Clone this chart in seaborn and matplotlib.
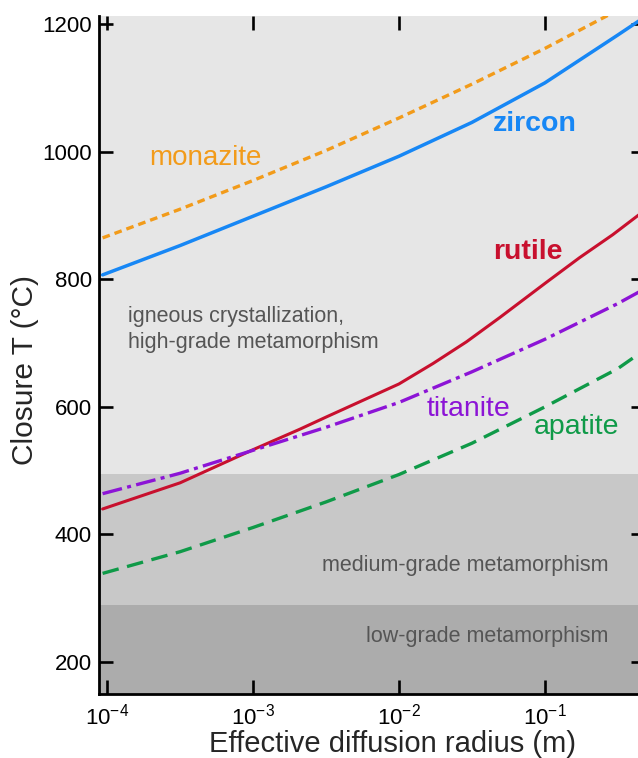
import numpy as np
import pandas as pd
import matplotlib
matplotlib.use("Agg")
import matplotlib.pyplot as plt
import seaborn as sns

# effective diffusion radius (m) at half-decade steps
radius = [9.3e-5, 3.16e-4, 1e-3, 3.16e-3, 1e-2, 3.16e-2, 1e-1, 3.16e-1, 4.4e-1]

# closure temperatures (degC)
zircon = [807, 853, 899, 945, 993, 1046, 1108, 1183, 1205]
monazite = [865, 910, 955, 1002, 1053, 1106, 1162, 1222, 1244]
titanite = [464, 496, 532, 568, 607, 655, 706, 762, 780]
apatite = [339, 373, 411, 451, 494, 543, 600, 660, 683]

# rutile bends near 1e-2, so it was read at more places
rutile_radius = [9.3e-5, 3.16e-4, 1e-3, 2.09e-3, 3.16e-3, 1e-2, 1.71e-2, 2.9e-2,
                 4.9e-2, 1.02e-1, 1.73e-1, 2.92e-1, 4.4e-1]
rutile = [440, 481, 533, 565, 584, 636, 668, 702, 740, 795, 834, 870, 901]

# metamorphic grade bands (degC)
band_edges = [150, 290, 495, 1213]
band_colors = ["#acacac", "#c8c8c8", "#e6e6e6"]

sns.set_theme(style="ticks")
plt.rcParams["font.family"] = ["Liberation Sans", "DejaVu Sans"]
plt.rcParams["mathtext.fontset"] = "custom"
plt.rcParams["mathtext.rm"] = "Liberation Sans"
plt.rcParams["mathtext.it"] = "Liberation Sans:italic"
plt.rcParams["mathtext.bf"] = "Liberation Sans:bold"

fig = plt.figure(figsize=(6.38, 7.58), dpi=100)
# right edge runs slightly past the canvas, as in the source figure
ax = fig.add_axes([0.155, 0.0845, 0.856, 0.8945])

for lo, hi, c in zip(band_edges[:-1], band_edges[1:], band_colors):
    ax.axhspan(lo, hi, color=c, lw=0, zorder=0)

series = {
    "monazite": (radius, monazite),
    "zircon": (radius, zircon),
    "rutile": (rutile_radius, rutile),
    "titanite": (radius, titanite),
    "apatite": (radius, apatite),
}
styles = {
    "monazite": dict(color="#f29b1a", lw=2.4, linestyle=(0, (2.3, 1.5))),
    "zircon": dict(color="#1787f5", lw=2.5, linestyle="-"),
    "rutile": dict(color="#c8102e", lw=2.2, linestyle="-"),
    "titanite": dict(color="#8c14d6", lw=2.4, linestyle=(0, (6, 1.6, 1.2, 1.6))),
    "apatite": dict(color="#0f9a48", lw=2.4, linestyle=(0, (5, 2.6))),
}
for name, (xs, ys) in series.items():
    d = pd.DataFrame({"radius": xs, "T": ys})
    sns.lineplot(data=d, x="radius", y="T", ax=ax, zorder=3, **styles[name])

ax.set_xscale("log")
ax.set_xlim(8.77e-5, 0.486)
ax.set_ylim(150, 1213)
ax.set_yticks([200, 400, 600, 800, 1000, 1200])
ax.xaxis.set_major_locator(matplotlib.ticker.LogLocator(base=10, numticks=10))
ax.xaxis.set_minor_locator(matplotlib.ticker.NullLocator())

for s in ["top", "right"]:
    ax.spines[s].set_visible(False)
for s in ["left", "bottom"]:
    ax.spines[s].set_linewidth(2.0)
    ax.spines[s].set_color("black")
ax.tick_params(which="major", direction="in", length=10, width=1.9, labelsize=16,
               top=True, right=True, colors="black")
ax.tick_params(axis="y", pad=5)
ax.tick_params(axis="x", pad=7)

ax.set_xlabel("Effective diffusion radius (m)", fontsize=21)
ax.set_ylabel("Closure T (\u00b0C)", fontsize=21.5)
ax.xaxis.set_label_coords(0.537, -0.053)
ax.yaxis.set_label_coords(-0.11, 0.478)

# curve labels
ax.text(4.74e-4, 991, "monazite", color="#f29b1a", fontsize=20, ha="center", va="center")
ax.text(0.0438, 1043, "zircon", color="#1787f5", fontsize=20.5, fontweight="bold", ha="left", va="center")
ax.text(0.0445, 843, "rutile", color="#c8102e", fontsize=20.5, fontweight="bold", ha="left", va="center")
ax.text(0.01545, 596, "titanite", color="#8c14d6", fontsize=20.5, ha="left", va="center")
ax.text(0.0838, 568, "apatite", color="#0f9a48", fontsize=20.5, ha="left", va="center")

# band labels
gray = "#555555"
ax.text(1.39e-4, 722, "igneous crystallization,\nhigh-grade metamorphism", color=gray,
        fontsize=15.5, ha="left", va="center", linespacing=1.3)
ax.text(0.273, 352, "medium-grade metamorphism", color=gray, fontsize=15.5, ha="right", va="center")
ax.text(0.273, 240, "low-grade metamorphism", color=gray, fontsize=15.5, ha="right", va="center")

fig.savefig("out.png", dpi=100)
